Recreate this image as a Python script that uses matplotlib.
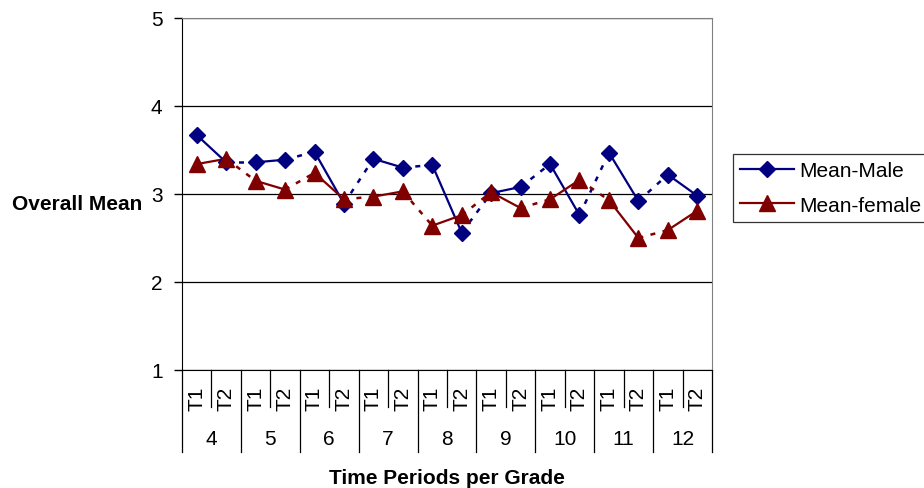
import matplotlib
matplotlib.use("Agg")
import matplotlib.pyplot as plt
import matplotlib.transforms as mtransforms

plt.rcParams['font.family'] = ['Liberation Sans', 'DejaVu Sans']

grades = ['4', '5', '6', '7', '8', '9', '10', '11', '12']
periods = ['T1', 'T2']
male = [3.67, 3.36, 3.36, 3.39, 3.48, 2.89, 3.40, 3.30, 3.33, 2.56,
        3.01, 3.08, 3.34, 2.76, 3.47, 2.92, 3.22, 2.98]
female = [3.34, 3.40, 3.15, 3.05, 3.24, 2.94, 2.97, 3.03, 2.64, 2.76,
          3.02, 2.84, 2.94, 3.16, 2.93, 2.50, 2.59, 2.81]
yticks = [1, 2, 3, 4, 5]

FS = 15
W, H = 924, 489
fig = plt.figure(figsize=(W / 100, H / 100), dpi=100)
ax = fig.add_axes([182 / W, 1 - 371 / H, (712 - 182) / W, (371 - 19) / H])

navy = '#000080'
dred = '#800000'
n = len(male)
x = list(range(n))

for vals, col, mk, ms, lab in [(male, navy, 'D', 8, 'Mean-Male'),
                                (female, dred, '^', 11, 'Mean-female')]:
    # solid within grade, dashed between grades
    for g in range(len(grades)):
        i = 2 * g
        ax.plot(x[i:i + 2], vals[i:i + 2], color=col, lw=1.6, zorder=3)
        if g < len(grades) - 1:
            ax.plot(x[i + 1:i + 3], vals[i + 1:i + 3], color=col, lw=1.8,
                    ls=(0, (2, 3)), zorder=3)
    ax.plot(x, vals, ls='none', marker=mk, ms=ms, color=col, zorder=4)
    ax.plot([], [], color=col, lw=1.6, marker=mk, ms=ms, label=lab)

ax.set_xlim(-0.5, n - 0.5)
ax.set_ylim(1, 5)
ax.set_yticks(yticks)
ax.set_yticklabels([str(v) for v in yticks], fontsize=FS)
ax.tick_params(axis='y', direction='out', length=6, width=1, pad=8)
ax.set_xticks([])
ax.yaxis.grid(True, color='black', lw=0.9)
ax.set_axisbelow(True)
for s in ['top', 'right']:
    ax.spines[s].set_color('#808080')
ax.spines['left'].set_color('black')
ax.spines['bottom'].set_color('black')

trans = mtransforms.blended_transform_factory(ax.transData, ax.transAxes)
y1 = -(408 - 371) / 352
y2 = -(453 - 371) / 352
# separators
for k in range(n + 1):
    xb = k - 0.5
    yb = y2 if k % 2 == 0 else y1
    ax.plot([xb, xb], [0, yb], color='black', lw=0.9, transform=trans,
            clip_on=False)
for i in range(n):
    ax.text(x[i], -(399 - 371) / 352, periods[i % 2], rotation=90,
            ha='center', va='center', fontsize=FS, transform=trans)
for g, gl in enumerate(grades):
    ax.text(2 * g + 0.5, -(440 - 371) / 352, gl, ha='center', va='center',
            fontsize=FS, transform=trans)

fig.text(77 / W, 1 - 204 / H, 'Overall Mean', ha='center', va='center',
         fontsize=FS, fontweight='bold')
fig.text(447 / W, 1 - 479 / H, 'Time Periods per Grade', ha='center',
         va='center', fontsize=FS, fontweight='bold')

leg = ax.legend(loc='upper left', bbox_to_anchor=(733 / W, 1 - 155 / H),
                bbox_transform=fig.transFigure, frameon=True, fancybox=False,
                fontsize=FS, handlelength=2.6, borderpad=0.35,
                labelspacing=0.74, handletextpad=0.25, borderaxespad=0)
leg.get_frame().set_edgecolor('black')
leg.get_frame().set_linewidth(0.9)

fig.savefig('out.png', dpi=100)
